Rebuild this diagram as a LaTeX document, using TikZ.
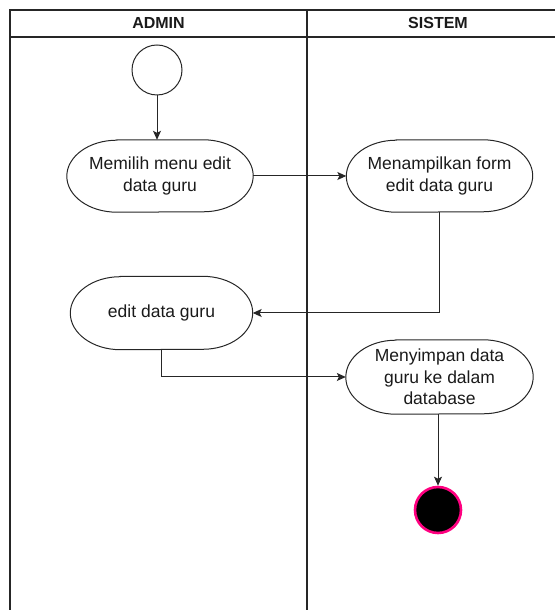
\documentclass[tikz,border=0pt]{standalone}
\usepackage{fontspec}
\setmainfont{Liberation Sans}
\usetikzlibrary{arrows.meta}
\definecolor{endpink}{HTML}{FF0080}
\definecolor{txt}{HTML}{1A1A1A}
\tikzset{
  lane/.style={draw=black!85, line width=1.1pt},
  headtext/.style={font=\fontsize{16}{18}\selectfont\bfseries, text=txt},
  actbox/.style={rectangle, draw=none, inner sep=0pt, align=center, text=txt,
    font=\fontsize{17.5}{22}\selectfont},
  startnode/.style={circle, draw=black!85, line width=1pt, minimum size=50pt, inner sep=0pt},
  endnode/.style={circle, fill=black, draw=endpink, line width=2.6pt, minimum size=46pt, inner sep=0pt},
  flow/.style={draw=black!85, line width=1pt, -{Stealth[width=8pt,length=9pt,inset=2pt]}},
}
% draw an activity outline (elliptical corners) around a named node
\newcommand{\actshape}[1]{%
  \draw[black!85, line width=1pt]
    ([xshift=50pt]#1.north west) -- ([xshift=-50pt]#1.north east)
    arc[start angle=90, end angle=-90, x radius=50pt, y radius=\actry]
    -- ([xshift=50pt]#1.south west)
    arc[start angle=270, end angle=90, x radius=50pt, y radius=\actry] -- cycle;}
\begin{document}
\begin{tikzpicture}[x=1pt,y=1pt]
\useasboundingbox (0,0) rectangle (555,610);
% swimlanes
\coordinate (tl) at (10,600);
\coordinate (tr) at (555,600);
\coordinate (hl) at (10,573);
\coordinate (hr) at (555,573);
\coordinate (bl) at (10,0);
\coordinate (mt) at (307,600);
\coordinate (mb) at (307,0);
\draw[lane] (bl) -- (tl) -- (tr);
\draw[lane] (hl) -- (hr);
\draw[lane] (mt) -- (mb);
\node[headtext] (hadmin) at (158.5,586.5) {ADMIN};
\node[headtext] (hsistem) at (438,586.5) {SISTEM};
% nodes
\node[startnode] (start) at (157,540) {};
\node[actbox, minimum width=186pt, minimum height=72pt] (a1) at (160,434) {Memilih menu edit\\data guru};
\node[actbox, minimum width=186pt, minimum height=72pt] (a2) at (439.5,434) {Menampilkan form\\edit data guru};
\node[actbox, minimum width=182pt, minimum height=73pt] (a3) at (161.5,297) {edit data guru};
\node[actbox, minimum width=187pt, minimum height=74pt, font=\fontsize{17.5}{21.5}\selectfont] (a4) at (439.5,233) {Menyimpan data\\guru ke dalam\\database};
\node[endnode] (end) at (438,100) {};
\def\actry{36pt}\actshape{a1}
\actshape{a2}
\def\actry{36.5pt}\actshape{a3}
\def\actry{37pt}\actshape{a4}
% connectors
\draw[flow] (start.south) -- (start.south |- a1.north);
\draw[flow] (a1) -- (a2);
\draw[flow] (a2.south) |- (a3.east);
\draw[flow] (a3.south) |- (a4.west);
\draw[flow] (a4.south -| end.north) -- (end);
\end{tikzpicture}
\end{document}
